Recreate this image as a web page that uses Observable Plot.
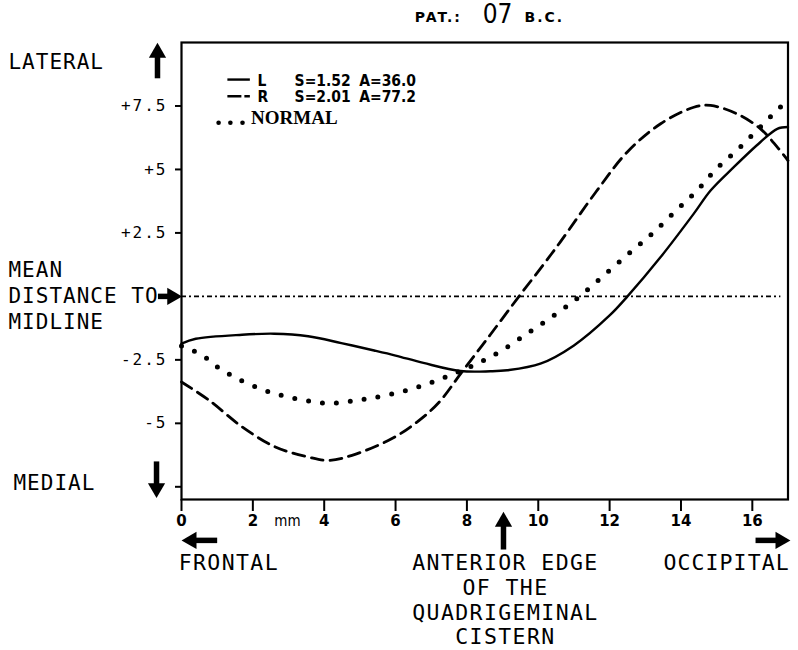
<!DOCTYPE html>
<html><head><meta charset="utf-8">
<script src="https://cdn.jsdelivr.net/npm/d3@7"></script>
<script src="https://cdn.jsdelivr.net/npm/@observablehq/plot@0.6"></script>
<style>body{margin:0;background:#fff}</style>
</head><body><div id="chart"></div>
<script>
// ---- series (x in mm, y = distance to midline) ----
const xL = [0, 0.4, 1.7, 2.6, 3.55, 4.48, 5.4, 6.0, 6.78, 7.82, 8.66, 9.13, 10.06, 11.0, 12.0, 12.5, 13.43, 14.36, 14.83, 15.48, 16.23, 16.7, 17];
const yL = [-1.86, -1.67, -1.51, -1.47, -1.57, -1.84, -2.13, -2.33, -2.62, -2.94, -2.95, -2.91, -2.65, -1.93, -0.75, 0, 1.55, 3.26, 4.17, 5.09, 6.08, 6.6, 6.67];
const xR = [0, 0.77, 1.7, 2.63, 3.56, 4.12, 4.78, 5.9, 6.6, 7.2, 7.87, 8.66, 9.46, 10.16, 10.62, 11.61, 12.49, 13.43, 14.36, 14.83, 15.57, 16.23, 16.7, 17];
const yR = [-3.37, -4.09, -5.14, -5.93, -6.33, -6.46, -6.26, -5.6, -4.95, -4.2, -2.96, -1.5, 0, 1.28, 2.15, 4.1, 5.68, 6.8, 7.45, 7.52, 7.19, 6.6, 5.88, 5.35];
const xN = [0, 0.58, 1.0, 1.57, 2.27, 2.92, 3.57, 3.95, 4.32, 5.07, 5.95, 6.78, 7.53, 8.28, 8.98, 9.68, 10.38, 11.08, 11.68, 12.58, 13.19, 13.84, 14.45, 15.0, 15.61, 16.22, 16.78, 17];
const yN = [-1.95, -2.32, -2.78, -3.24, -3.67, -3.94, -4.12, -4.2, -4.2, -4.06, -3.83, -3.5, -3.11, -2.65, -2.13, -1.47, -0.81, -0.09, 0.63, 1.74, 2.47, 3.35, 4.17, 5.03, 5.81, 6.67, 7.45, 7.7];

// ---- ticks ----
const xTicks = [0, 2, 4, 6, 8, 10, 12, 14, 16];
const yTicks = [7.5, 5, 2.5, -2.5, -5, -7.5];
const yTickLabels = ["+7.5", "+5", "+2.5", "-2.5", "-5", ""];

// ---- legend ----
const legendKeys = ["L", "R"];
const legendS = ["S=1.52", "S=2.01"];
const legendA = ["A=36.0", "A=77.2"];
const legendRowY = [8.5, 7.84];
const legendNormal = "NORMAL";

// ---- annotations (data units) ----
const titleSmall = [
  {text: "PAT.:", x: 7.2, y: 11.0},
  {text: "B.C.", x: 10.17, y: 11.0}
];
const titleBig = [{text: "07", x: 8.86, y: 11.08}];
const leftLabels = [
  {text: "LATERAL", x: -4.85, y: 9.22},
  {text: "MEAN", x: -4.85, y: 1.02},
  {text: "DISTANCE TO", x: -4.85, y: 0},
  {text: "MIDLINE", x: -4.85, y: -1.02},
  {text: "MEDIAL", x: -4.71, y: -7.37}
];
const bottomStart = [{text: "FRONTAL", x: -0.08, y: -10.5}];
const bottomEnd = [{text: "OCCIPITAL", x: 17.05, y: -10.5}];
const bottomMiddle = [
  {text: "ANTERIOR EDGE", x: 9.08, y: -10.5},
  {text: "OF THE", x: 9.08, y: -11.5},
  {text: "QUADRIGEMINAL", x: 9.08, y: -12.48},
  {text: "CISTERN", x: 9.08, y: -13.43}
];
const arrows = [
  {x1: -0.673, y1: 8.59, x2: -0.673, y2: 9.96, dir: "up"},
  {x1: -0.66, y1: 0, x2: 0, y2: 0, dir: "right"},
  {x1: -0.70, y1: -6.5, x2: -0.70, y2: -7.92, dir: "down"},
  {x1: 1.0, y1: -9.61, x2: 0.02, y2: -9.61, dir: "left"},
  {x1: 9.025, y1: -9.97, x2: 9.025, y2: -8.51, dir: "up"},
  {x1: 16.09, y1: -9.61, x2: 17.05, y2: -9.61, dir: "right"}
];

// ---- layout ----
const W = 798, H = 650, mL = 181, mR = 10.5, mT = 42, mB = 151;
const xDom = [0, 17], yDom = [-8, 10];
const kx = (xDom[1] - xDom[0]) / (W - mL - mR);
const ky = (yDom[1] - yDom[0]) / (H - mT - mB);
const headOff = 9.3;
const rot = {up: 0, right: 90, down: 180, left: 270};
const heads = arrows.map(a => {
  const hx = a.dir === "right" ? a.x2 - headOff * kx : a.dir === "left" ? a.x2 + headOff * kx : a.x2;
  const hy = a.dir === "up" ? a.y2 - headOff * ky : a.dir === "down" ? a.y2 + headOff * ky : a.y2;
  return {x: hx, y: hy, r: rot[a.dir]};
});
const shafts = arrows.map((a, i) => ({x1: a.x1, y1: a.y1, x2: heads[i].x, y2: heads[i].y}));

const toPts = (xs, ys) => xs.map((x, i) => ({x, y: ys[i]}));
const L = toPts(xL, yL), R = toPts(xR, yR), N = toPts(xN, yN);
const yLabelMap = new Map(yTicks.map((t, i) => [t, yTickLabels[i]]));

const legendRows = legendKeys.map((k, i) => ({k, s: legendS[i], a: legendA[i], y: legendRowY[i]}));
const legendSampleX = [1.3, 1.93];
const legendFont = {fontSize: 15.5, fontWeight: "bold", fontFamily: "DejaVu Sans Condensed", textAnchor: "start"};

const chart = Plot.plot({
  width: W, height: H,
  marginLeft: mL, marginRight: mR, marginTop: mT, marginBottom: mB,
  x: {domain: xDom},
  y: {domain: yDom},
  style: {fontFamily: "DejaVu Sans Mono", background: "white", color: "black", overflow: "visible"},
  marks: [
    Plot.ruleY([0], {x1: 0, x2: 16.8, strokeDasharray: "5,3,2,3", strokeWidth: 1.8}),
    Plot.line(L, {x: "x", y: "y", curve: "catmull-rom", strokeWidth: 2.4}),
    Plot.line(R, {x: "x", y: "y", curve: "catmull-rom", strokeWidth: 2.8, strokeDasharray: "12,7"}),
    Plot.line(N, {x: "x", y: "y", curve: "catmull-rom", strokeWidth: 5, strokeDasharray: "0,14", strokeLinecap: "round"}),
    Plot.frame({stroke: "black", strokeWidth: 2.2}),
    Plot.axisY({ticks: yTicks, tickSize: 6, tickPadding: 8, tickFormat: d => yLabelMap.get(d), fontSize: 16, strokeWidth: 2, label: null, ariaDescription: "ytext"}),
    Plot.axisX({ticks: xTicks, tickSize: 12, tickPadding: 4, fontSize: 15, fontWeight: "bold", fontFamily: "DejaVu Sans", strokeWidth: 2, label: null}),
    Plot.text(["mm"], {x: 2.97, y: -8.86, fontSize: 15, fontFamily: "DejaVu Sans Condensed"}),
    // legend
    Plot.ruleY([legendRows[0]], {y: d => d.y + 0.04, x1: legendSampleX[0], x2: legendSampleX[1], strokeWidth: 2.4}),
    Plot.ruleY([legendRows[1]], {y: d => d.y + 0.04, x1: legendSampleX[0], x2: legendSampleX[1], strokeWidth: 2.6, strokeDasharray: "14,3,6,40"}),
    Plot.text(legendRows, {x: 2.13, y: "y", text: "k", ...legendFont}),
    Plot.text(legendRows, {x: 3.17, y: "y", text: "s", ...legendFont}),
    Plot.text(legendRows, {x: 4.98, y: "y", text: "a", ...legendFont}),
    Plot.dot([1.04, 1.37, 1.71], {x: d => d, y: 6.84, r: 2.3, fill: "black", stroke: null}),
    Plot.text([legendNormal], {x: 1.95, y: 7.03, textAnchor: "start", fontSize: 19, fontWeight: "bold", fontFamily: "Liberation Serif"}),
    // title
    Plot.text(titleSmall, {x: "x", y: "y", text: "text", fontSize: 14, fontWeight: "bold", fontFamily: "DejaVu Sans", ariaDescription: "titlesmall"}),
    Plot.text(titleBig, {x: "x", y: "y", text: "text", fontSize: 26, fontFamily: "DejaVu Sans Condensed"}),
    // side / bottom annotations
    Plot.text(leftLabels, {x: "x", y: "y", text: "text", textAnchor: "start", fontSize: 21, ariaDescription: "leftlab"}),
    Plot.text(bottomStart, {x: "x", y: "y", text: "text", textAnchor: "start", fontSize: 21.5, ariaDescription: "botlab"}),
    Plot.text(bottomEnd, {x: "x", y: "y", text: "text", textAnchor: "end", fontSize: 21.5, ariaDescription: "botlabend"}),
    Plot.text(bottomMiddle, {x: "x", y: "y", text: "text", textAnchor: "middle", fontSize: 21.5, ariaDescription: "botlab"}),
    Plot.link(shafts, {x1: "x1", y1: "y1", x2: "x2", y2: "y2", strokeWidth: 5.5}),
    Plot.dot(heads, {x: "x", y: "y", rotate: "r", symbol: "triangle", r: 6.4, fill: "black", stroke: null})
  ]
});
document.getElementById("chart").appendChild(chart);
const svg = d3.select(chart);
svg.selectAll('g[aria-description="leftlab"]').attr("letter-spacing", 1);
svg.selectAll('g[aria-description="botlab"]').attr("letter-spacing", 1.4);
svg.selectAll('g[aria-description="botlabend"]').attr("letter-spacing", 1.1);
svg.selectAll('g[aria-description="ytext"]').attr("letter-spacing", 2);
svg.selectAll('g[aria-description="titlesmall"]').attr("letter-spacing", 2);
</script>
</body></html>
